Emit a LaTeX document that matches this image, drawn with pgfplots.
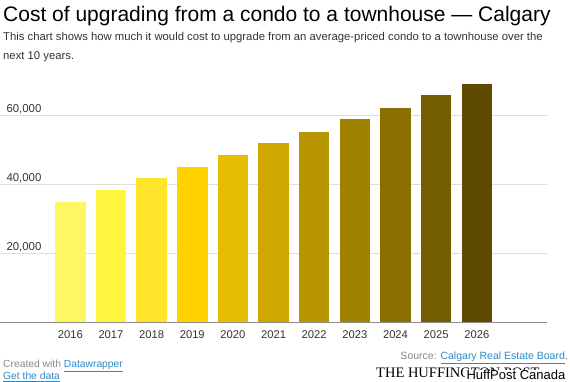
\documentclass[border=0pt]{standalone}
\usepackage{pgfplots}
\pgfplotsset{compat=1.18}
\usepackage{fontspec}
\setmainfont{Liberation Sans}
\newfontfamily\serifhp{Liberation Serif}
\definecolor{c16}{HTML}{FFF762}
\definecolor{c17}{HTML}{FFF53E}
\definecolor{c18}{HTML}{FFE42A}
\definecolor{c19}{HTML}{FFD300}
\definecolor{c20}{HTML}{E6BD00}
\definecolor{c21}{HTML}{CEA800}
\definecolor{c22}{HTML}{B89600}
\definecolor{c23}{HTML}{A08200}
\definecolor{c24}{HTML}{8A7000}
\definecolor{c25}{HTML}{745F00}
\definecolor{c26}{HTML}{5E4B00}
\definecolor{txt}{HTML}{333333}
\definecolor{lnk}{HTML}{2A8AC8}
\definecolor{foot}{HTML}{888888}
\begin{document}
\begin{tikzpicture}
\useasboundingbox (0,0) rectangle (570pt,382pt);
\node[anchor=base west, inner sep=0pt, font=\fontsize{21}{24}\selectfont, text=black] at (3pt,382pt-22pt) {Cost of upgrading from a condo to a townhouse — Calgary};
\node[anchor=base west, inner sep=0pt, font=\fontsize{11.3}{12}\selectfont, text=txt] at (3pt,382pt-40.5pt) {This chart shows how much it would cost to upgrade from an average-priced condo to a townhouse over the};
\node[anchor=base west, inner sep=0pt, font=\fontsize{11.3}{12}\selectfont, text=txt] at (3pt,382pt-60pt) {next 10 years.};
\begin{axis}[
  at={(0pt,59.5pt)}, anchor=south west,
  scale only axis, width=546.7pt, height=241.5pt,
  xmin=-1.73, xmax=11.72, ymin=0, ymax=70000,
  axis line style={draw=none},
  major tick style={draw=none},
  ybar, bar width=30.5pt,
  xtick={0,...,10},
  xticklabels={2016,2017,2018,2019,2020,2021,2022,2023,2024,2025,2026},
  xticklabel style={font=\fontsize{11.2}{12}\selectfont, text=txt, anchor=base, yshift=-12pt},
  ytick={20000,40000,60000},
  ymajorgrids, grid style={draw=black!13, line width=0.8pt},
  extra y ticks={0}, extra y tick labels={},
  extra y tick style={grid style={draw=black!45, line width=0.8pt}},
  /pgf/number format/.cd, 1000 sep={,}, assume math mode=true,
  /pgfplots/.cd,
  yticklabel style={font=\fontsize{11.4}{12}\selectfont, text=txt, anchor=base west, xshift=3pt, yshift=3pt},
  scaled y ticks=false,
  clip=false,
]
\addplot[fill=c16, draw=none, bar shift=0pt] coordinates {(0,34930)};
\addplot[fill=c17, draw=none, bar shift=0pt] coordinates {(1,38320)};
\addplot[fill=c18, draw=none, bar shift=0pt] coordinates {(2,41880)};
\addplot[fill=c19, draw=none, bar shift=0pt] coordinates {(3,45070)};
\addplot[fill=c20, draw=none, bar shift=0pt] coordinates {(4,48460)};
\addplot[fill=c21, draw=none, bar shift=0pt] coordinates {(5,52120)};
\addplot[fill=c22, draw=none, bar shift=0pt] coordinates {(6,55300)};
\addplot[fill=c23, draw=none, bar shift=0pt] coordinates {(7,58990)};
\addplot[fill=c24, draw=none, bar shift=0pt] coordinates {(8,62260)};
\addplot[fill=c25, draw=none, bar shift=0pt] coordinates {(9,65850)};
\addplot[fill=c26, draw=none, bar shift=0pt] coordinates {(10,69130)};
\end{axis}
\node[anchor=base west, inner sep=0pt, font=\fontsize{10.3}{12}\selectfont, text=foot] at (3pt,382pt-368pt) {Created with \textcolor{lnk}{\underline{Datawrapper}}};
\node[anchor=base west, inner sep=0pt, font=\fontsize{10.3}{12}\selectfont, text=lnk] at (3pt,382pt-380pt) {\underline{Get the data}};
\node[anchor=base east, inner sep=0pt, font=\fontsize{10.5}{12}\selectfont, text=foot] at (568pt,382pt-360pt) {Source: \textcolor{lnk}{\underline{Calgary Real Estate Board}},};
\node[anchor=base west, inner sep=0pt, font=\serifhp\fontsize{14.5}{14}\selectfont, text=black] at (376pt,382pt-378pt) {THE HUFFINGTON POST};
\node[anchor=base east, fill=white, inner ysep=1pt, inner xsep=1.5pt, font=\fontsize{13}{12}\selectfont, text=black] at (567pt,382pt-380pt) {HuffPost Canada};
\end{tikzpicture}
\end{document}
